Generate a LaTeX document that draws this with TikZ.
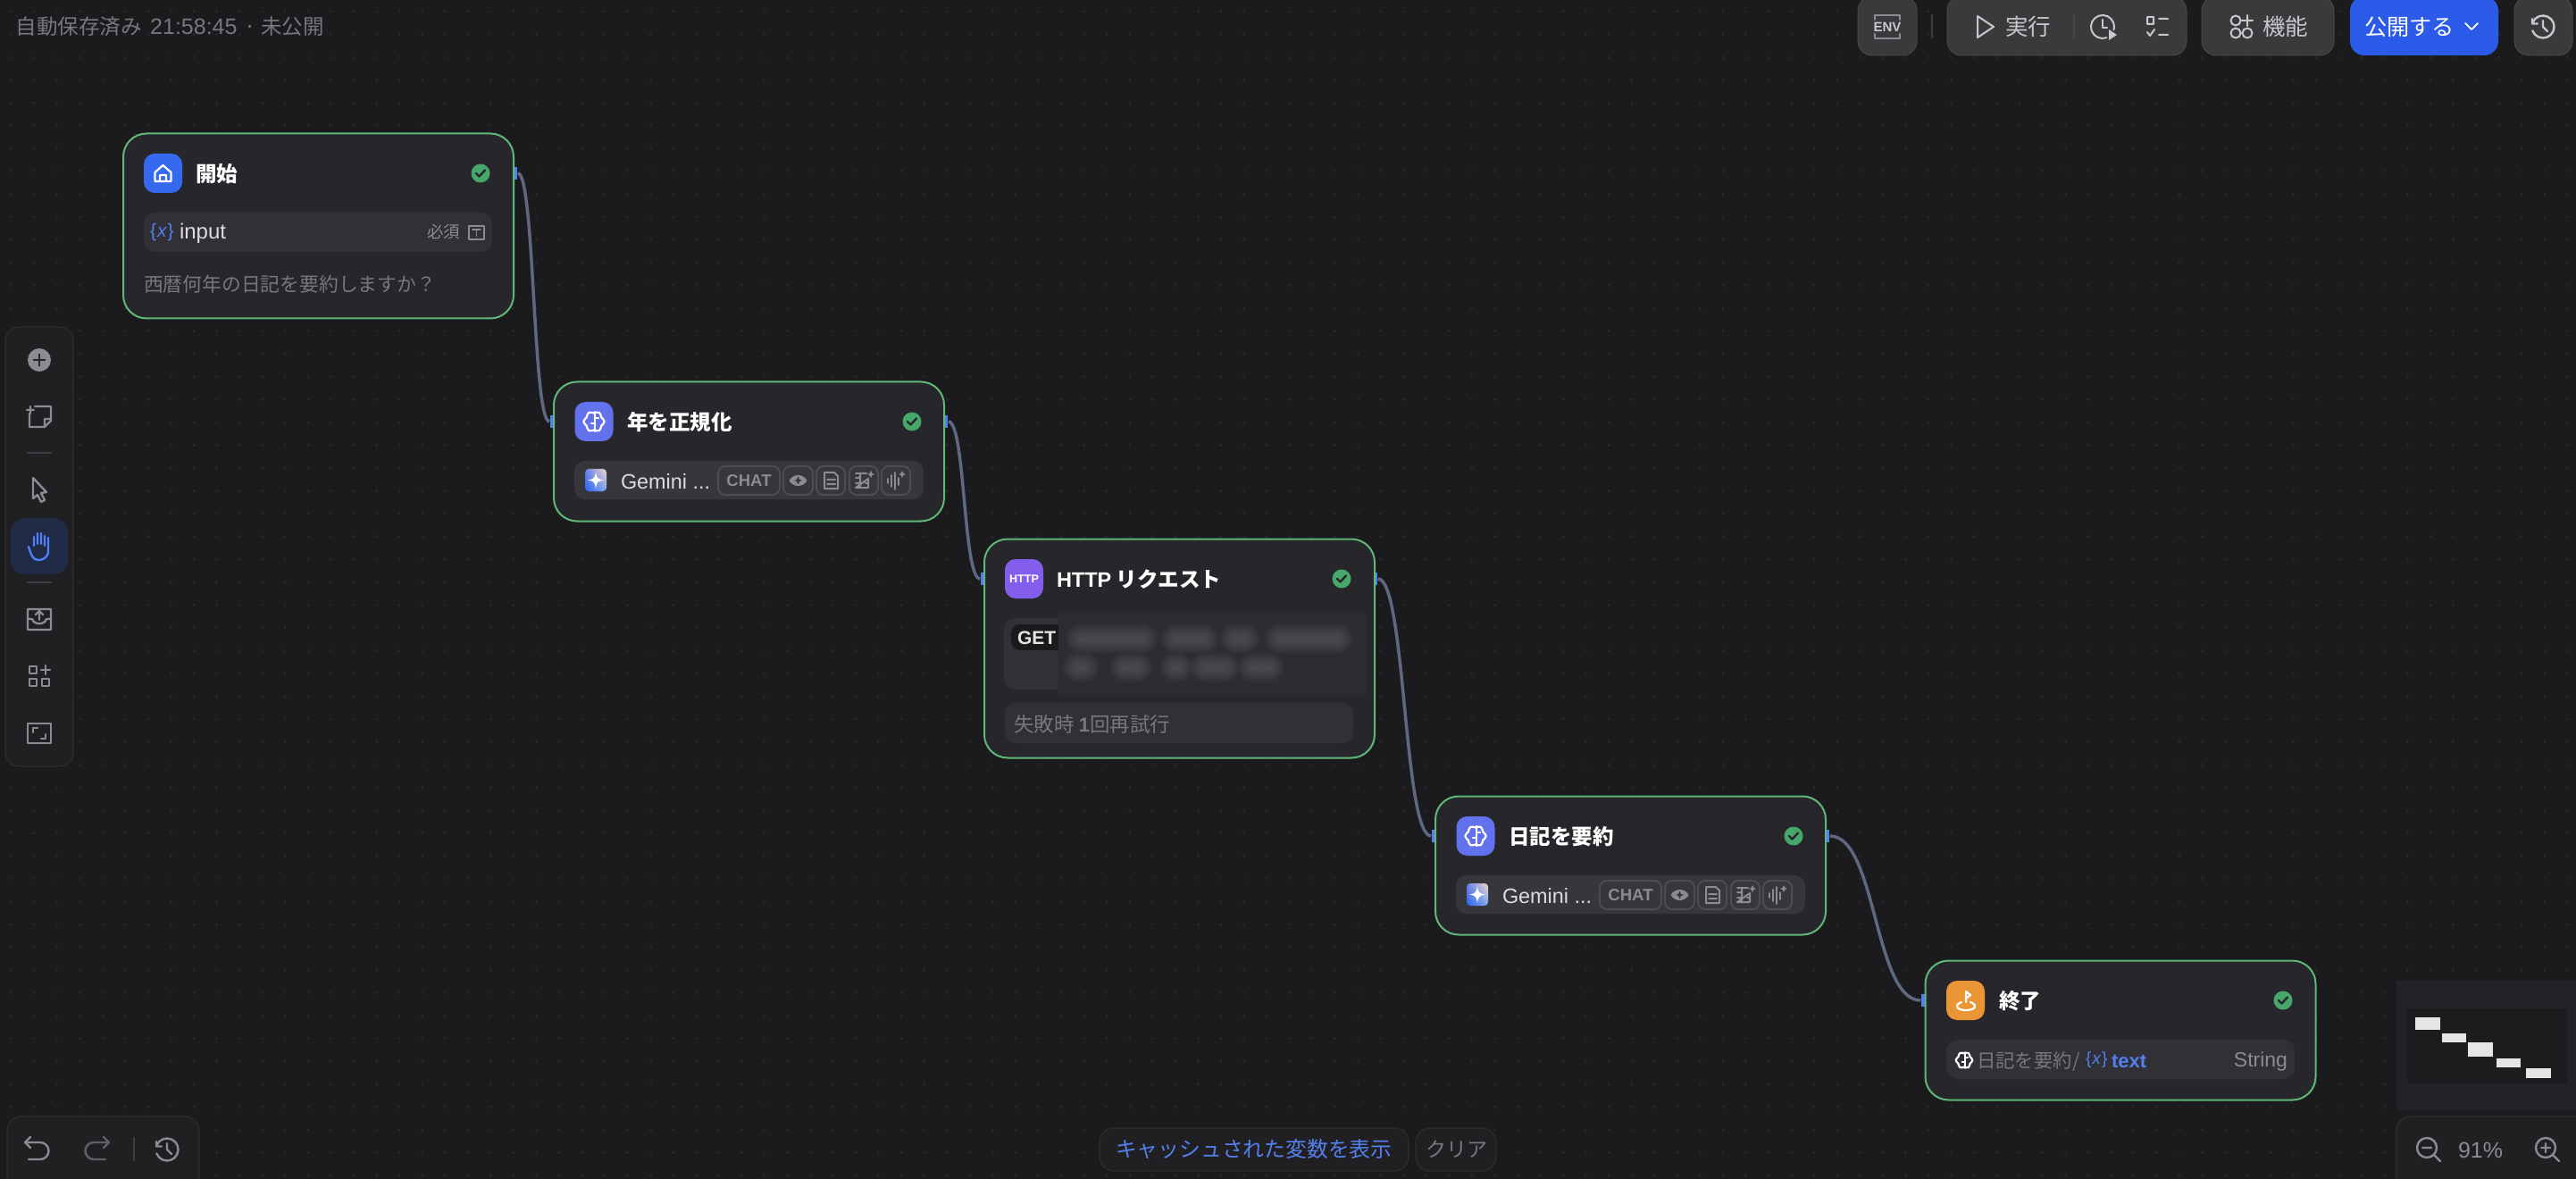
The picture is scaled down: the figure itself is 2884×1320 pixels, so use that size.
\documentclass[tikz,border=0pt]{standalone}
\usepackage{fontspec}
\setmainfont{Noto Sans CJK JP}
\newfontfamily\lat{Liberation Sans}
\usetikzlibrary{shadings}
\definecolor{bgc}{HTML}{1B1B1E}
\definecolor{dotc}{HTML}{28282C}
\definecolor{cardc}{HTML}{26262B}
\definecolor{okc}{HTML}{5FB878}
\definecolor{rowc}{HTML}{303036}
\definecolor{modelc}{HTML}{36363B}
\definecolor{edgec}{HTML}{5F6880}
\definecolor{portc}{HTML}{4F7EF8}
\definecolor{statc}{HTML}{45A86A}
\definecolor{dimc}{HTML}{77777D}
\definecolor{icoc}{HTML}{8B8B92}
\definecolor{lightc}{HTML}{DCDCE0}
\definecolor{bluec}{HTML}{5480EE}
\definecolor{panelc}{HTML}{202023}
\definecolor{panelb}{HTML}{2E2E32}
\definecolor{sepc}{HTML}{3C3C41}
\definecolor{btnc}{HTML}{3A3A3D}
\definecolor{btnb}{HTML}{48484C}
\definecolor{topt}{HTML}{C8C8CC}
\definecolor{pubc}{HTML}{2B5BE8}
\definecolor{badgec}{HTML}{4C4C52}
\definecolor{llmc}{HTML}{6172EC}
\definecolor{httpc}{HTML}{835EEC}
\definecolor{homec}{HTML}{3469F0}
\definecolor{endc}{HTML}{EB9636}
\definecolor{handbg}{HTML}{1F2A45}
\definecolor{minic}{HTML}{232327}
\definecolor{minid}{HTML}{1C1C1F}
\definecolor{minir}{HTML}{E5E5E5}
\definecolor{blurc}{HTML}{2C2D30}
\definecolor{blobc}{HTML}{808086}
\definecolor{getc}{HTML}{1A1A1C}
\definecolor{gemul}{HTML}{6A80E8}
\definecolor{gemll}{HTML}{2A66F0}
\definecolor{gemlr}{HTML}{7FA6F2}
\definecolor{gemur}{HTML}{F0D9CA}
\newcommand\fs[1]{\fontsize{#1}{#1}\selectfont}
\newcommand\vx{{\upshape\{}\kern.5pt{\itshape x}\kern.5pt{\upshape\}}}
\tikzset{
  txt/.style={inner sep=0pt,outer sep=0pt,anchor=west},
  card/.style={draw=okc,fill=cardc,line width=1pt,rounded corners=13pt,inner sep=0pt,outer sep=0pt,anchor=north west,minimum width=218.5pt},
  iconbox/.style={inner sep=0pt,rounded corners=6pt,minimum width=21.5pt,minimum height=22pt},
  stat/.style={circle,fill=statc,inner sep=0pt,minimum size=10.5pt},
  portn/.style={fill=portc,inner sep=0pt,minimum width=2.4pt,minimum height=7pt},
  edgeline/.style={draw=edgec,line width=1.75pt},
  title/.style={txt,text=white,font=\fs{11.75}\bfseries,xshift=-.5pt,yshift=-.4pt},
  ico/.style={draw=icoc,line width=1.2pt,line join=round,line cap=round},
  wht/.style={draw=white,line width=1.1pt,line join=round,line cap=round},
  rowbox/.style={fill=rowc,rounded corners=6pt},
  btn/.style={fill=btnc,draw=btnb,line width=.5pt,rounded corners=8pt},
  panel/.style={fill=panelc,draw=panelb,line width=.6pt,rounded corners=8pt},
  badge/.style={draw=badgec,line width=1pt,rounded corners=4pt},
}
\newcommand\checkmk[2]{\draw[draw=cardc,line width=1.2pt,line cap=round,line join=round,shift={(#1,#2)}] (-5,0) -- (-1.5,3.5) -- (5,-3.5);}
\newcommand\brain[3]{\begin{scope}[shift={(#1,#2)},scale=#3]
 \draw[wht] plot[smooth cycle,samples=24,domain=0:345] ({(10.6+1.1*cos(6*\x))*cos(\x)},{(10.6+1.1*cos(6*\x))*sin(\x)});
 \draw[wht] (1,-11) -- (1,11) (1,2) -- (-3,2) (1,-4) -- (5,-4);
\end{scope}}
\newcommand\hist[3]{\begin{scope}[shift={(#1,#2)}]
 \draw[ico,draw=#3] (205:12.5) arc (205:520:12.5);
 \draw[ico,draw=#3] (-12,-9) -- (-12,-3.5) -- (-6,-3.5) (0,-7) -- (0,0) -- (5,5);
\end{scope}}
\newcommand\model[3]{\begin{scope}[shift={(#2,#3)}]
 \fill[fill=modelc,rounded corners=6pt] (0,0) rectangle (391,43);
 \shade[lower left=gemll,upper left=gemul,lower right=gemlr,upper right=gemur,rounded corners=2pt] (12,9) rectangle (36,34);
 \fill[white] (24,12) .. controls (25,19) and (26,20.5) .. (33,21.5) .. controls (26,22.5) and (25,24) .. (24,31) .. controls (23,24) and (22,22.5) .. (15,21.5) .. controls (22,20.5) and (23,19) .. (24,12) -- cycle;
 \node[txt,text=lightc,font=\lat\fs{11.7}] (#1gem) at (52,23) {Gemini ...};
 \draw[badge] (161,6) rectangle (230,38);
 \node[inner sep=0pt,text=icoc,font=\lat\fs{9.3}\bfseries] (#1chat) at (195.5,22) {CHAT};
 \draw[badge] (234,6) rectangle (267,38);
 \draw[badge] (271,6) rectangle (303,38);
 \draw[badge] (308,6) rectangle (340,38);
 \draw[badge] (344,6) rectangle (376,38);
 \fill[icoc] (240.5,22) .. controls (245,14) and (256,14) .. (260.5,22) .. controls (256,30) and (245,30) .. (240.5,22) -- cycle;
 \fill[modelc] (250.5,17.5) -- (252,21) -- (255,22) -- (252,23) -- (250.5,26.5) -- (249,23) -- (246,22) -- (249,21) -- cycle;
 \draw[ico,draw=icoc,line width=1pt] (280,13) -- (291,13) -- (295,17) -- (295,31) -- (280,31) -- cycle (283,21) -- (292,21) (283,26) -- (292,26);
 \draw[ico,draw=icoc,line width=1pt] (315,14) -- (327,14) (329,20) -- (329,30) -- (315,30) -- cycle (320,14) -- (320,30) (315,19) -- (320,19) (315,25) -- (320,25) (326,25) -- (329,25);
 \fill[icoc] (332,11) -- (333.5,14) -- (336,15) -- (333.5,16) -- (332,19) -- (330.5,16) -- (328,15) -- (330.5,14) -- cycle;
 \draw[ico,draw=icoc,line width=.9pt] (351,20) -- (351,25) (355,16) -- (355,29) (359,13) -- (359,32) (363,19) -- (363,27);
 \fill[icoc] (367,11) -- (368.5,14) -- (371,15) -- (368.5,16) -- (367,19) -- (365.5,16) -- (363,15) -- (365.5,14) -- cycle;
\end{scope}}
\newcommand\blob[3]{\foreach \w in {17,15.5,14,12.5,11,9.5,8,6.5,5,3.5,2}{\draw[draw=blobc,opacity=.045,line cap=round,line width=\w pt] (#1,#3) -- (#2,#3);}}
\begin{document}
\begin{tikzpicture}[x=.5pt,y=-.5pt]
\clip (0,0) rectangle (2884,1320);
\fill[bgc] (0,0) rectangle (2884,1320);
\foreach \j in {0,...,51}{\draw[draw=dotc,line width=1.7pt,line cap=round,dash pattern=on 0pt off 12.775pt] (12.7,{13+25.55*\j}) -- (2900,{13+25.55*\j});}

% ports
\node[portn] (p1o) at (577,194) {};
\node[portn] (p2i) at (618,472) {};
\node[portn] (p2o) at (1059,472) {};
\node[portn] (p3i) at (1100,648) {};
\node[portn] (p3o) at (1540,648) {};
\node[portn] (p4i) at (1605,936) {};
\node[portn] (p4o) at (2046,936) {};
\node[portn] (p5i) at (2153,1120) {};
% edges
\draw[edgeline] (p1o.east) .. controls +(19,0) and +(-19,0) .. (p2i.west);
\draw[edgeline] (p2o.east) .. controls +(19,0) and +(-19,0) .. (p3i.west);
\draw[edgeline] (p3o.east) .. controls +(31,0) and +(-31,0) .. (p4i.west);
\draw[edgeline] (p4o.east) .. controls +(52,0) and +(-52,0) .. (p5i.west);

% ---- start node
\node[card,minimum height=103.5pt] (start) at (138,149.5) {};
\node[iconbox,fill=homec] (starticon) at (182.5,194) {};
\draw[wht] (173.5,193) -- (182.5,185) -- (191.5,193) -- (191.5,203) -- (173.5,203) -- cycle (179,203) -- (179,196) -- (186,196) -- (186,203);
\node[title] (starttitle) at (220,193.5) {開始};
\node[stat] (startstat) at (538,194) {};
\checkmk{538}{194}
\fill[rowbox] (161,238) rectangle (551,282);
\node[txt,text=bluec,font=\lat\fs{10.5}] (startx) at (168,260) {\vx};
\node[txt,text=lightc,font=\lat\fs{12}] (startinput) at (201,261.5) {input};
\node[txt,text=icoc,font=\fs{9.25}] (startreq) at (478,260) {必須};
\draw[ico,line width=.8pt] (525,253) rectangle (542,268) (529,257) -- (538,257) (533.5,257) -- (533.5,264);
\node[txt,text=dimc,font=\fs{10.9}] (startq) at (161,318) {西暦何年の日記を要約しますか？};

% ---- normalise node
\node[card,minimum height=78pt] (norm) at (620,427.5) {};
\node[iconbox,fill=llmc] (normicon) at (665,472) {};
\brain{665}{472}{1}
\node[title] (normtitle) at (703,472) {年を正規化};
\node[stat] (normstat) at (1021,472) {};
\checkmk{1021}{472}
\model{nm}{643}{516}

% ---- http node
\node[card,minimum height=122.5pt] (http) at (1102,603.5) {};
\node[iconbox,fill=httpc] (httpicon) at (1146.5,648) {};
\node[inner sep=0pt,text=white,font=\lat\fs{6.3}\bfseries] (httpicont) at (1146.5,648) {HTTP};
\node[title] (httptitle) at (1184,648) {{\lat HTTP} リクエスト};
\node[stat] (httpstat) at (1502,648) {};
\checkmk{1502}{648}
\fill[rowbox] (1124,692) rectangle (1515,772);
\fill[getc,rounded corners=5pt] (1132,699) rectangle (1200,728);
\node[txt,text=minir,font=\lat\fs{10.5}\bfseries] (httpget) at (1139,714) {GET};
\fill[blurc] (1185,687) rectangle (1529,779);
\blob{1210}{1280}{715}
\blob{1316}{1348}{715}
\blob{1382}{1394}{715}
\blob{1432}{1498}{715}
\blob{1206}{1214}{747}
\blob{1259}{1274}{747}
\blob{1315}{1319}{747}
\blob{1349}{1371}{747}
\blob{1402}{1421}{747}
\fill[rowbox] (1125,787) rectangle (1515,832);
\node[txt,text=dimc,font=\fs{11.25}] (httpretry) at (1135,811) {失敗時 {\lat\bfseries 1}回再試行};

% ---- summarise node
\node[card,minimum height=77.5pt] (summ) at (1607,891.5) {};
\node[iconbox,fill=llmc] (summicon) at (1652,936) {};
\brain{1652}{936}{1}
\node[title] (summtitle) at (1690,936) {日記を要約};
\node[stat] (summstat) at (2008,936) {};
\checkmk{2008}{936}
\model{sm}{1630}{980}

% ---- end node
\node[card,minimum height=78pt] (finish) at (2155.5,1075.5) {};
\node[iconbox,fill=endc] (finishicon) at (2200.5,1120) {};
\draw[wht] (2201,1122) -- (2201,1110) -- (2206,1114) -- (2201,1118);
\draw[wht] (2196,1122) .. controls (2186,1126) and (2192,1131) .. (2201,1131) .. controls (2210,1131) and (2216,1126) .. (2206,1122);
\node[title,xshift=.5pt] (finishtitle) at (2238,1120) {終了};
\node[stat] (finishstat) at (2556,1120) {};
\checkmk{2556}{1120}
\fill[rowbox] (2179,1164) rectangle (2569,1208);
\brain{2199}{1187}{.8}
\node[txt,text=dimc,font=\fs{10.7}] (finishsrc) at (2213,1188) {日記を要約/};
\node[txt,text=bluec,font=\lat\fs{9.6}] (finishx) at (2335,1187) {\vx};
\node[txt,text=bluec,font=\lat\fs{11}\bfseries] (finishtext) at (2364,1188) {text};
\node[txt,text=icoc,font=\lat\fs{11.5},anchor=east] (finishtype) at (2561,1188.5) {String};

% ---- top bar
\node[txt,text=dimc,font=\fs{11.75}] (autosave) at (18,30) {自動保存済み\hspace{-1.5pt} {\lat\fs{12.5} 21:58:45}\hspace{1.5pt} · 未公開};
\draw[btn] (2080,-4) rectangle (2146,62);
\draw[ico,line width=1pt] (2099,22) -- (2099,17) -- (2127,17) -- (2127,22) (2099,38) -- (2099,43) -- (2127,43) -- (2127,38);
\node[inner sep=0pt,text=topt,font=\lat\fs{7.5}\bfseries] (envt) at (2113,30) {ENV};
\draw[draw=sepc,line width=.8pt] (2163,16) -- (2163,43);
\draw[btn] (2180,-4) rectangle (2448,62);
\draw[ico,draw=topt,line width=1pt] (2214,18) -- (2232,30) -- (2214,42) -- cycle;
\node[txt,text=topt,font=\fs{12.75}] (runt) at (2245,30) {実行};
\draw[draw=btnb,line width=.8pt] (2322,16) -- (2322,43);
\draw[ico,draw=topt,line width=1pt] (2358.4,42.2) arc (70:375:13);
\draw[ico,draw=topt,line width=1pt] (2354,22) -- (2354,31) -- (2359,31);
\fill[topt] (2361,33) -- (2370,39) -- (2361,45) -- cycle;
\draw[ico,draw=topt,line width=1pt] (2404,19) rectangle (2411,27) (2417,21) -- (2427,21) (2417,39) -- (2427,39) (2404,36) -- (2407,40) -- (2412,33);
\draw[btn] (2465,-4) rectangle (2613,62);
\draw[ico,draw=topt,line width=1pt] (2503,23) circle (5.5) (2503,37) circle (5.5) (2516,37) circle (5.5) (2516,17) -- (2516,29) (2510,23) -- (2522,23);
\node[txt,text=topt,font=\fs{12.75}] (funct) at (2533,30) {機能};
\fill[fill=pubc,rounded corners=8pt] (2631,-4) rectangle (2797,62);
\node[txt,text=white,font=\fs{12.6}] (pubt) at (2647,30) {公開する};
\draw[wht,line width=.9pt] (2760,26) -- (2767,33) -- (2774,26);
\draw[btn] (2815,-4) rectangle (2880,62);
\hist{2847}{30}{topt}

% ---- left toolbar
\draw[panel] (6,366) rectangle (82,858);
\fill[icoc] (44,403) circle (13);
\draw[draw=cardc,line width=1.4pt] (37,403) -- (51,403) (44,396) -- (44,410);
\draw[ico] (39,455) -- (57,455) -- (57,471) -- (50,478) -- (33,478) -- (33,463) (57,469) -- (50,469) -- (50,478) (30,459) -- (38,459) (34,455) -- (34,463);
\draw[draw=sepc,line width=.6pt] (30,507) -- (58,507) (30,652) -- (58,652);
\draw[ico] (37,535) -- (52,551) -- (46,552) -- (50,560) -- (46,562) -- (42,554) -- (37,558) -- cycle;
\fill[handbg,rounded corners=8pt] (12,580) rectangle (76,643);
\draw[ico,draw=portc] (38,611) -- (38,601) (42,609) -- (42,597) (46,609) -- (46,597) (50,611) -- (50,600) (54,602) -- (54,617) .. controls (54,624) and (48,627) .. (43,627) .. controls (37,627) and (35,622) .. (32,612);
\draw[ico] (31,682) rectangle (57,705) (31,693) -- (36,693) .. controls (38,700) and (50,700) .. (52,693) -- (57,693) (44,694) -- (44,684) (40,688) -- (44,684) -- (48,688);
\draw[ico] (33,746) rectangle (41,754) (33,760) rectangle (41,768) (47,760) rectangle (55,768) (51,745) -- (51,755) (46,750) -- (56,750);
\draw[ico] (31,810) rectangle (57,832) (37,820) -- (37,815) -- (42,815) (51,822) -- (51,827) -- (46,827);

% ---- bottom-left
\draw[panel] (8,1250) rectangle (223,1340);
\begin{scope}[shift={(41,1286)}]
\draw[ico] (-7,-13) -- (-13,-7) -- (-7,-1) (-13,-7) -- (4,-7) arc (-90:90:9.5) -- (-9,12);
\end{scope}
\begin{scope}[shift={(109,1286)},xscale=-1]
\draw[ico,draw=icoc!60!panelc] (-7,-13) -- (-13,-7) -- (-7,-1) (-13,-7) -- (4,-7) arc (-90:90:9.5) -- (-9,12);
\end{scope}
\draw[draw=sepc,line width=.8pt] (150,1273) -- (150,1300);
\hist{187}{1287}{icoc}

% ---- bottom centre
\draw[panel] (1231,1263) rectangle (1577,1311);
\node[txt,text=bluec,font=\fs{11.9}] (cachet) at (1249,1287) {キャッシュされた変数を表示};
\draw[panel] (1585,1263) rectangle (1675,1311);
\node[txt,text=dimc,font=\fs{11.5}] (cleart) at (1596,1287) {クリア};

% ---- minimap
\fill[minic] (2683,1098) rectangle (2890,1243);
\fill[minid] (2695,1129) rectangle (2874,1213);
\fill[minir] (2704,1139) rectangle (2732,1153);
\fill[minir] (2734,1157) rectangle (2761,1167);
\fill[minir] (2763,1167) rectangle (2791,1183);
\fill[minir] (2795,1185) rectangle (2822,1195);
\fill[minir] (2828,1196) rectangle (2856,1207);

% ---- zoom panel
\draw[panel] (2683,1250) rectangle (2900,1340);
\draw[ico] (2717,1285) circle (11) (2725,1293) -- (2732,1300) (2712,1285) -- (2722,1285);
\node[txt,text=icoc,font=\lat\fs{12.5}] (zoomt) at (2752,1288) {91\%};
\draw[ico] (2850,1285) circle (11) (2858,1293) -- (2865,1300) (2845,1285) -- (2855,1285) (2850,1280) -- (2850,1290);
\end{tikzpicture}
\end{document}
